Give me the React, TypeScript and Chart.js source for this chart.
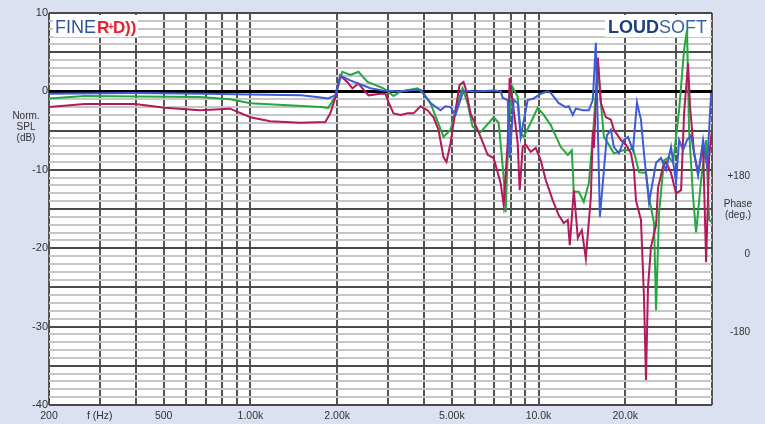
import React, { useEffect, useRef } from "react";
import { Chart, registerables } from "chart.js";

Chart.register(...registerables);

// ---------- data ----------
const blueFreq = [200, 400, 700, 1000, 1500, 1700, 1860, 1970, 2050, 2220, 2610, 2900, 3300, 3500, 3900, 4220, 4570, 4750, 4950, 5150, 5490, 6000, 7000, 7390, 7510, 7820, 7940, 8200, 8470, 8670, 9170, 9620, 10180, 10760, 11030, 11760, 12430, 12740, 13150, 13470, 14250, 14950, 15430, 15810, 16330, 17270, 17830, 18265, 19010, 19790, 20430, 21270, 21960, 22670, 23230, 24180, 25580, 26610, 27700, 28830, 30015, 30750, 31740, 32770, 33840, 35790, 37250, 38460, 39720, 40000];
const blueDb = [-0.3, -0.2, -0.3, -0.4, -0.5, -0.7, -0.9, -0.5, 2.0, 1.4, 0.4, 0.1, 0.0, 0.1, 0.2, -1.5, -2.4, -1.9, -2.0, -3.0, 0.1, 0.0, 0.1, 0.0, -0.8, -1.1, -8.5, -1.1, -1.5, -5.8, -1.1, -0.9, -0.3, 0.0, -0.2, -1.5, -2.0, -1.9, -3.0, -2.2, -2.4, -2.4, -1.1, 6.2, -16.0, -5.6, -4.9, -7.1, -7.9, -6.2, -5.8, -7.5, -1.4, -3.6, -7.9, -14.2, -9.1, -8.5, -10.0, -7.1, -11.6, -6.2, -7.5, -6.2, -5.6, -10.7, -6.2, -9.6, -0.2, -1.1];

const greenFreq = [200, 266, 668, 850, 1000, 1750, 1864, 1971, 2084, 2224, 2371, 2549, 2897, 3139, 3320, 3804, 3988, 4217, 4680, 4950, 5236, 5448, 5671, 5903, 6295, 6986, 7272, 7568, 7690, 7877, 8134, 8467, 8672, 8881, 9395, 9936, 10425, 11025, 11945, 12635, 13047, 13257, 13798, 14360, 14947, 15434, 16067, 16327, 16858, 17407, 18265, 19632, 20596, 21270, 22311, 23603, 24177, 25167, 25576, 26197, 27258, 28374, 29300, 30748, 32000, 32772, 33296, 34384, 35225, 36666, 38165, 39084, 40000];
const greenDb = [-0.9, -0.6, -0.7, -1.0, -1.5, -2.0, -2.1, -0.7, 2.5, 2.1, 2.5, 1.2, 0.4, -0.6, 0.0, 0.4, -0.3, -1.5, -5.8, -4.9, -1.5, 0.4, -1.5, -4.5, -5.2, -3.3, -4.0, -10.9, -15.4, -4.5, 0.5, -0.7, -5.3, -5.8, -4.0, -2.1, -3.0, -4.3, -7.1, -8.1, -7.5, -12.8, -12.8, -14.1, -11.7, -5.8, 3.6, 0.1, -5.8, -6.6, -7.9, -7.5, -7.5, -7.2, -10.3, -10.4, -13.5, -16.8, -27.9, -15.5, -8.8, -8.4, -9.1, -2.4, 5.3, 7.8, -4.9, -13.5, -18.0, -11.3, -6.2, -16.4, -16.7];

const redFreq = [200, 266, 398, 505, 668, 850, 1000, 1171, 1489, 1820, 1894, 1971, 2051, 2169, 2260, 2371, 2570, 2826, 2944, 3015, 3139, 3320, 3511, 3684, 3894, 4118, 4320, 4497, 4680, 4793, 4950, 5152, 5319, 5492, 5582, 5810, 6295, 6659, 6986, 7389, 7568, 7815, 7940, 8200, 8467, 8603, 8810, 9026, 9395, 9779, 10178, 10593, 11205, 11757, 12237, 12635, 12838, 13257, 13688, 14134, 14593, 15190, 15434, 15560, 16067, 16456, 17130, 17830, 18265, 19318, 20107, 20930, 21439, 21786, 22674, 23226, 23603, 23983, 24570, 25576, 25986, 27040, 27697, 28831, 30015, 31243, 32000, 33037, 33566, 34662, 35790, 37254, 38165, 39084, 39719, 40000];
const redDb = [-2.0, -1.6, -1.6, -2.1, -2.4, -2.2, -3.3, -3.8, -4.0, -3.9, -2.8, -0.8, 2.0, 1.2, 0.4, 1.0, -0.5, -0.3, -0.3, -1.4, -2.8, -3.0, -2.8, -2.8, -1.9, -2.4, -3.3, -4.9, -8.4, -9.0, -6.6, -2.4, 0.8, 1.2, 0.4, -2.8, -5.8, -8.1, -8.5, -11.7, -14.5, -6.6, 1.7, -2.4, -6.6, -12.6, -7.1, -6.8, -7.7, -7.2, -8.8, -11.3, -13.9, -15.8, -16.8, -16.4, -19.6, -12.6, -18.7, -17.7, -21.3, -13.5, -4.9, -7.2, 4.3, -1.5, -3.3, -3.6, -4.9, -6.2, -6.8, -7.9, -10.0, -13.9, -16.4, -26.2, -36.8, -25.0, -19.8, -17.1, -12.3, -9.6, -9.0, -10.4, -13.0, -12.6, -2.8, 3.6, -2.0, -7.9, -10.4, -7.1, -21.8, -8.4, -5.8, -4.9];

const xGridValues = [200, 300, 400, 500, 600, 700, 800, 900, 1000, 2000, 3000, 4000, 5000, 6000, 7000, 8000, 9000, 10000, 20000, 30000, 40000];
const xTickLabels: Record<number, string> = { 200: "200", 300: "f (Hz)", 500: "500", 1000: "1.00k", 2000: "2.00k", 5000: "5.00k", 10000: "10.0k", 20000: "20.0k" };
const yGridValues = Array.from({ length: 51 }, (_, i) => 10 - i);
const yLabelValues = [10, 0, -10, -20, -30, -40];
const phaseTicks = [180, 0, -180];

const FONT = "'Liberation Sans', Arial, sans-serif";
const BG = "#dce1f2";

const decorPlugin = {
  id: "decor",
  beforeDraw(chart: any) {
    const { ctx, chartArea: a } = chart;
    ctx.save();
    ctx.fillStyle = BG;
    ctx.fillRect(0, 0, chart.width, chart.height);
    ctx.fillStyle = "#ffffff";
    ctx.fillRect(a.left, a.top, a.right - a.left, a.bottom - a.top);
    ctx.restore();
  },
  beforeDatasetsDraw(chart: any) {
    const { ctx } = chart;
    ctx.save();
    ctx.fillStyle = "#ffffff";
    ctx.fillRect(53, 15, 85, 22);
    ctx.fillRect(605, 15, 105, 22);
    ctx.textBaseline = "alphabetic";
    ctx.textAlign = "left";
    ctx.fillStyle = "#2d5595";
    ctx.font = `18px ${FONT}`;
    ctx.fillText("FINE", 55, 33);
    ctx.fillStyle = "#e8212f";
    ctx.font = `bold 17px ${FONT}`;
    ctx.fillText("R", 97, 33);
    ctx.font = `bold 10px ${FONT}`;
    ctx.fillText("+", 108, 30);
    ctx.font = `bold 17px ${FONT}`;
    ctx.fillText("D", 113, 33);
    ctx.fillText("))", 125, 33);
    ctx.fillStyle = "#1e3f7e";
    ctx.font = `bold 18px ${FONT}`;
    ctx.fillText("LOUD", 608, 33);
    const w = ctx.measureText("LOUD").width;
    ctx.fillStyle = "#3a64a8";
    ctx.font = `18px ${FONT}`;
    ctx.fillText("SOFT", 608 + w, 33);
    ctx.restore();
  },
  afterDraw(chart: any) {
    const { ctx } = chart;
    ctx.save();
    ctx.fillStyle = "#333333";
    ctx.font = `10px ${FONT}`;
    ctx.textAlign = "center";
    ctx.textBaseline = "middle";
    ctx.fillText("Norm.", 26, 116);
    ctx.fillText("SPL", 26, 127);
    ctx.fillText("(dB)", 26, 138);
    ctx.fillText("Phase", 738, 204);
    ctx.fillText("(deg.)", 738, 215);
    ctx.restore();
  },
};

function toPoints(fs: number[], ds: number[]) {
  return fs.map((f, i) => ({ x: f, y: ds[i] }));
}

export default function App() {
  const ref = useRef<HTMLCanvasElement | null>(null);
  useEffect(() => {
    if (!ref.current) return;
    const chart = new Chart(ref.current, {
      type: "line",
      data: {
        datasets: [
          { label: "blue", data: toPoints(blueFreq, blueDb), borderColor: "#3d5bd6", borderWidth: 2 },
          { label: "red", data: toPoints(redFreq, redDb), borderColor: "#b3185c", borderWidth: 2 },
          { label: "green", data: toPoints(greenFreq, greenDb), borderColor: "#24a83c", borderWidth: 2 },
        ],
      },
      options: {
        animation: false,
        responsive: false,
        devicePixelRatio: 1,
        layout: { padding: { top: 13, left: 0, right: 15, bottom: 0 } },
        plugins: { legend: { display: false }, tooltip: { enabled: false } },
        elements: { point: { radius: 0 }, line: { tension: 0 } },
        scales: {
          x: {
            type: "logarithmic",
            position: "bottom",
            min: 200,
            max: 40000,
            afterBuildTicks: (s: any) => {
              s.ticks = xGridValues.map((v) => ({ value: v }));
            },
            afterFit: (s: any) => {
              s.height = 19;
            },
            ticks: {
              autoSkip: false,
              maxRotation: 0,
              minRotation: 0,
              padding: 5,
              color: "#333333",
              font: { family: FONT, size: 10.5 },
              callback: (v: any) => xTickLabels[Number(v)] ?? "",
            },
            grid: { color: "#555555", lineWidth: 2, drawTicks: false },
            border: { display: false },
          },
          y: {
            type: "linear",
            position: "left",
            min: -40,
            max: 10,
            afterBuildTicks: (s: any) => {
              s.ticks = yGridValues.map((v) => ({ value: v }));
            },
            afterFit: (s: any) => {
              s.width = 49;
            },
            ticks: {
              autoSkip: false,
              padding: 1,
              color: "#333333",
              font: { family: FONT, size: 11 },
              callback: (v: any) => (yLabelValues.includes(Number(v)) ? String(v) : ""),
            },
            grid: {
              drawTicks: false,
              color: (c: any) => {
                const v = c.tick ? c.tick.value : 1;
                if (v === 0) return "#000000";
                if (v % 5 === 0) return "#4a4a4a";
                return "#c6c6c6";
              },
              lineWidth: (c: any) => {
                const v = c.tick ? c.tick.value : 1;
                if (v === 0) return 3;
                return 2;
              },
            },
            border: { display: false },
          },
          y2: {
            type: "linear",
            position: "right",
            min: -346,
            max: 554,
            afterBuildTicks: (s: any) => {
              s.ticks = phaseTicks.map((v) => ({ value: v }));
            },
            afterFit: (s: any) => {
              s.width = 38;
            },
            ticks: {
              autoSkip: false,
              crossAlign: "far",
              padding: 0,
              color: "#333333",
              font: { family: FONT, size: 10 },
              callback: (v: any) => (Number(v) > 0 ? "+" + v : String(v)),
            },
            grid: { display: false, drawTicks: false },
            border: { display: false },
          },
        },
      } as any,
      plugins: [decorPlugin],
    });
    return () => chart.destroy();
  }, []);
  return (
    <div style={{ position: "absolute", left: 0, top: 0, width: 765, height: 424, background: BG }}>
      <canvas ref={ref} width={765} height={424} style={{ display: "block" }} />
    </div>
  );
}
